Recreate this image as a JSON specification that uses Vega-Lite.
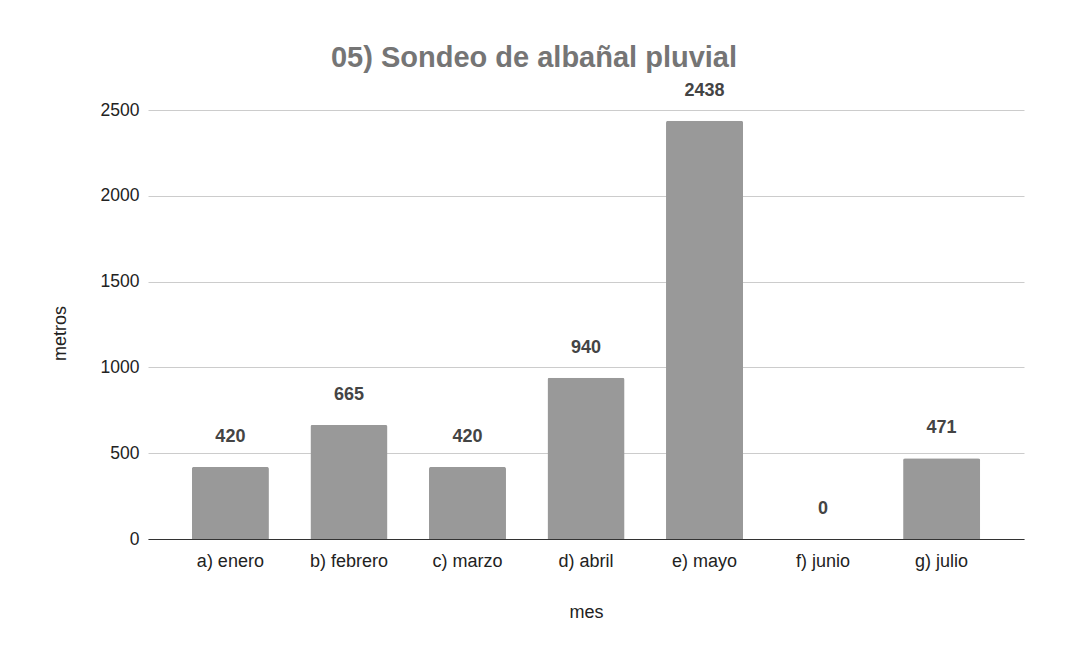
{
  "$schema": "https://vega.github.io/schema/vega-lite/v6.json",
  "width": 876,
  "height": 429,
  "autosize": {"type": "none"},
  "padding": {"left": 148, "top": 110, "right": 44, "bottom": 115},
  "background": "white",
  "title": {
    "text": "05) Sondeo de albañal pluvial",
    "font": "Liberation Sans",
    "fontSize": 29,
    "fontWeight": "bold",
    "color": "#757575",
    "anchor": "middle",
    "dx": -52,
    "dy": 24,
    "baseline": "alphabetic",
    "offset": 10
  },
  "config": {"view": {"stroke": null}},
  "data": {
    "values": [
      {"mes": "a) enero", "metros": 420},
      {"mes": "b) febrero", "metros": 665},
      {"mes": "c) marzo", "metros": 420},
      {"mes": "d) abril", "metros": 940},
      {"mes": "e) mayo", "metros": 2438},
      {"mes": "f) junio", "metros": 0},
      {"mes": "g) julio", "metros": 471}
    ]
  },
  "encoding": {
    "x": {
      "field": "mes",
      "type": "nominal",
      "sort": null,
      "title": "mes",
      "scale": {"paddingInner": 0.35, "paddingOuter": 0.37},
      "axis": {
        "labelAngle": 0,
        "labelFont": "Liberation Sans",
        "labelFontSize": 18,
        "labelColor": "#222222",
        "labelBaseline": "alphabetic",
        "labelPadding": 27,
        "ticks": false,
        "domainColor": "#333333",
        "domainWidth": 1.2,
        "titleFont": "Liberation Sans",
        "titleFontSize": 18,
        "titleFontWeight": "normal",
        "titleColor": "#222222",
        "titleBaseline": "alphabetic",
        "titleY": 78
      }
    },
    "y": {
      "field": "metros",
      "type": "quantitative",
      "title": "metros",
      "scale": {"domain": [0, 2500], "nice": false},
      "axis": {
        "values": [0, 500, 1000, 1500, 2000, 2500],
        "format": "d",
        "domain": false,
        "ticks": false,
        "labelFont": "Liberation Sans",
        "labelFontSize": 17.5,
        "labelColor": "#222222",
        "labelPadding": 9,
        "gridColor": "#cccccc",
        "gridWidth": 1,
        "titleFont": "Liberation Sans",
        "titleFontSize": 18,
        "titleFontWeight": "normal",
        "titleColor": "#222222",
        "titleAngle": -90,
        "titleBaseline": "alphabetic",
        "titleX": -83,
        "titleY": 223
      }
    }
  },
  "layer": [
    {
      "mark": {"type": "bar", "color": "#999999", "cornerRadiusTopLeft": 2, "cornerRadiusTopRight": 2}
    },
    {
      "mark": {
        "type": "text",
        "font": "Liberation Sans",
        "fontSize": 18,
        "fontWeight": "bold",
        "color": "#444444",
        "baseline": "alphabetic",
        "dy": -25
      },
      "encoding": {"text": {"field": "metros", "type": "quantitative"}}
    }
  ]
}
